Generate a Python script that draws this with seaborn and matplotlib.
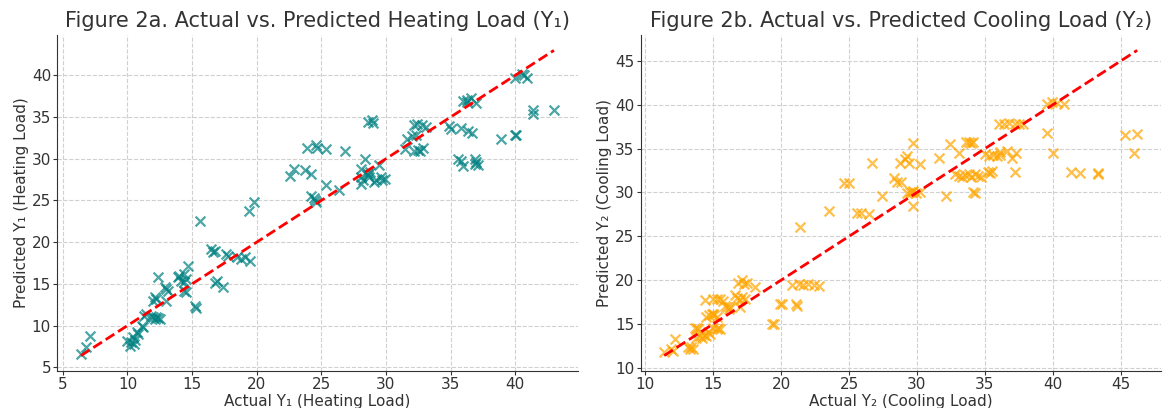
import matplotlib
matplotlib.use("Agg")
import matplotlib.pyplot as plt
import seaborn as sns
import pandas as pd

# Figure 2a: heating load (actual, predicted)
heat_actual = [
    6.4, 6.8, 7.1,
    10.0, 10.2, 10.3, 10.4, 10.5, 10.55, 10.7, 10.8, 11.1, 11.2, 11.3, 11.45,
    11.8, 12.0, 12.1, 12.2, 12.35, 12.5, 12.0, 12.1, 12.2, 12.35,
    12.9, 13.0, 13.1, 13.0, 13.9, 14.0, 14.15, 14.4, 14.5, 14.4, 14.7, 14.4, 14.5,
    15.2, 15.3, 15.6, 16.5, 16.6, 16.75, 16.75, 16.9, 17.4, 17.65, 17.8,
    18.5, 18.8, 19.1, 19.5, 19.37, 19.76,
    22.6, 22.9, 23.75, 24.2, 23.9, 24.6, 24.7, 25.4, 26.8,
    24.2, 24.4, 24.5, 24.6, 25.4, 26.4,
    28.35, 28.1, 28.5, 28.8, 28.1, 28.2, 28.1, 28.6, 28.7,
    29.1, 29.2, 29.5, 29.6, 29.9, 29.7, 28.6, 28.9, 29.0,
    31.6, 32.0, 32.3, 31.5, 32.2, 32.4, 32.8, 33.1, 32.2, 32.5, 32.9, 32.6,
    34.9, 35.05, 35.8, 36.35, 36.65, 36.0, 36.3, 36.6, 37.0, 36.3,
    35.6, 35.8, 36.0, 36.9, 37.0, 37.1, 36.9,
    38.9, 39.95, 40.1, 39.95, 40.5, 40.9, 40.7, 41.4, 41.4, 43.0,
]
heat_pred = [
    6.65, 7.45, 8.7,
    8.2, 7.6, 8.0, 8.6, 7.8, 8.3, 9.2, 9.0, 10.0, 9.8, 11.2, 11.4,
    11.2, 11.0, 10.8, 11.0, 10.9, 10.8, 13.0, 13.4, 13.2, 15.8,
    14.6, 14.4, 14.2, 13.0, 15.8, 16.0, 15.4, 16.2, 15.6, 15.2, 17.2, 14.2, 14.0,
    12.3, 12.1, 22.5, 19.2, 18.8, 19.0, 15.1, 15.3, 14.6, 18.6, 18.4,
    18.2, 18.0, 18.2, 17.8, 23.7, 24.8,
    27.9, 28.75, 28.6, 28.15, 31.3, 31.65, 31.3, 31.15, 30.95,
    25.5, 25.3, 25.0, 24.76, 26.8, 26.3,
    29.95, 28.75, 28.35, 28.4, 27.8, 27.4, 27.0, 28.0, 27.8,
    27.2, 27.5, 29.2, 27.8, 27.6, 27.4, 34.4, 34.6, 34.3,
    32.35, 32.7, 32.9, 31.15, 34.1, 34.2, 34.1, 33.8, 30.95, 31.1, 31.3, 30.9,
    33.9, 33.6, 33.7, 33.3, 33.1, 36.9, 37.1, 37.3, 36.7, 36.8,
    29.95, 29.7, 29.15, 29.95, 29.6, 29.2, 29.4,
    32.4, 32.85, 32.9, 39.7, 40.2, 39.7, 40.0, 35.85, 35.35, 35.85,
]

# Figure 2b: cooling load (actual, predicted)
cool_actual = [
    11.4, 11.9, 12.05, 12.2, 13.15, 13.3, 13.4, 13.5, 13.65, 13.9, 13.8,
    13.75, 14.0, 14.2, 14.3, 14.5, 14.4, 14.5, 14.7, 14.9, 14.65, 14.75,
    15.0, 15.25, 15.5, 15.75, 15.0, 15.1, 15.25, 15.0, 15.25, 15.35, 15.5,
    15.9, 16.0, 16.15, 16.25, 16.6, 16.75, 17.0, 17.1, 17.35, 17.0,
    16.85, 17.1, 17.25, 17.5, 18.1, 19.3, 19.45, 19.95, 20.05,
    20.8, 21.3, 21.6, 22.0, 22.4, 22.8, 21.1, 21.2, 21.37, 23.5,
    25.6, 25.85, 26.5, 24.6, 25.0, 26.7, 27.4,
    28.3, 28.55, 28.8, 28.75, 29.1, 29.3, 29.4, 29.7,
    29.3, 29.5, 29.7, 29.9, 30.2, 29.6, 29.7, 30.2,
    31.6, 32.1, 32.45, 32.8, 33.1, 33.3, 33.55, 33.8, 34.0, 34.3, 34.5, 34.7,
    33.1, 33.6, 33.85, 34.1, 34.0, 34.1, 34.3,
    35.0, 35.3, 35.6, 35.9, 36.1, 35.2, 35.55, 35.4,
    36.0, 36.4, 36.8, 37.2, 37.5, 37.8, 36.1, 36.6, 37.0, 37.3, 37.2,
    39.55, 39.9, 40.3, 40.8, 39.6, 40.0, 41.3, 42.0, 43.35, 43.35,
    45.3, 46.2, 46.0,
]
cool_pred = [
    11.8, 12.15, 11.95, 13.3, 12.35, 12.15, 12.35, 12.15, 14.6, 14.4, 14.5,
    13.4, 13.6, 13.4, 13.8, 13.6, 17.7, 15.8, 16.0, 16.2, 14.05, 13.9,
    17.8, 17.8, 17.85, 17.6, 16.2, 16.0, 15.8, 14.6, 14.4, 14.6, 14.4,
    17.1, 16.9, 16.7, 16.9, 18.3, 18.0, 17.7, 18.1, 17.85, 16.9,
    19.65, 20.0, 19.6, 19.7, 19.2, 15.05, 15.0, 17.3, 17.3,
    19.5, 19.6, 19.5, 19.6, 19.45, 19.35, 17.3, 17.1, 26.1, 27.9,
    27.65, 27.65, 27.6, 31.1, 31.1, 33.35, 29.55,
    31.6, 31.2, 31.2, 33.35, 33.8, 34.2, 33.4, 35.6,
    29.9, 30.0, 30.2, 29.9, 30.05, 30.05, 28.5, 33.25,
    33.9, 29.55, 35.5, 32.1, 31.9, 31.8, 32.0, 32.1, 31.75, 32.1, 31.9, 31.75,
    34.5, 35.75, 35.8, 35.75, 35.65, 30.05, 29.9,
    34.4, 34.2, 34.3, 34.1, 34.3, 32.3, 32.4, 32.2,
    37.85, 37.85, 37.9, 37.85, 37.8, 37.8, 34.6, 34.7, 33.95, 34.5, 32.3,
    40.1, 40.3, 40.2, 40.05, 36.8, 34.5, 32.3, 32.2, 32.2, 32.1,
    36.5, 36.7, 34.5,
]

sns.set_style("whitegrid", {
    "grid.linestyle": "--",
    "grid.color": "#d0d0d0",
    "axes.edgecolor": "0.2",
    "xtick.bottom": True,
    "ytick.left": True,
})
plt.rcParams["font.family"] = ["DejaVu Sans"]
plt.rcParams["text.color"] = "0.2"
plt.rcParams["axes.labelcolor"] = "0.2"
plt.rcParams["xtick.color"] = "0.2"
plt.rcParams["ytick.color"] = "0.2"

fig, axes = plt.subplots(1, 2, figsize=(11.69, 4.08), dpi=100)
fig.subplots_adjust(left=0.049, right=0.993, bottom=0.091, top=0.914, wspace=0.121)

panels = [
    (heat_actual, heat_pred, "teal", "Y\u2081", "Heating Load", "Figure 2a"),
    (cool_actual, cool_pred, "orange", "Y\u2082", "Cooling Load", "Figure 2b"),
]

for ax, (actual, pred, color, y, name, fig_id) in zip(axes, panels):
    df = pd.DataFrame({"actual": actual, "pred": pred})
    sns.scatterplot(data=df, x="actual", y="pred", ax=ax, marker="x",
                    color=color, alpha=0.7, s=50, linewidth=1.6)
    lo, hi = min(actual), max(actual)
    ax.plot([lo, hi], [lo, hi], color="red", linestyle="--", linewidth=2)
    ax.set_title(f"{fig_id}. Actual vs. Predicted {name} ({y})", fontsize=15, pad=6)
    ax.set_xlabel(f"Actual {y} ({name})", fontsize=11, labelpad=1)
    ax.set_ylabel(f"Predicted {y} ({name})", fontsize=11, labelpad=2)
    ax.tick_params(labelsize=11, length=3, width=0.8, pad=1.5)
    sns.despine(ax=ax)

plt.savefig("out.png", dpi=100)
